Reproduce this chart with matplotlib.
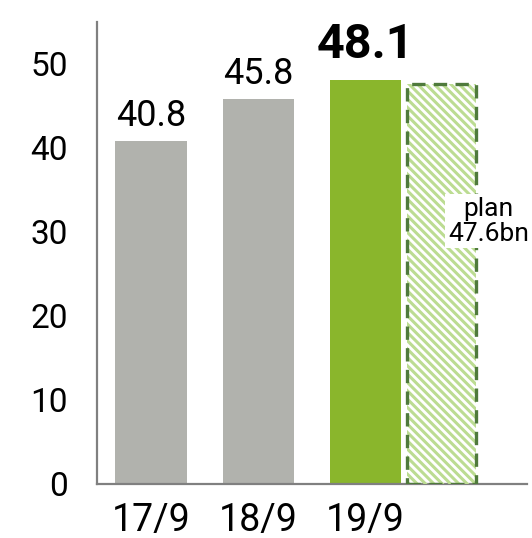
import matplotlib
matplotlib.use("Agg")
import matplotlib.pyplot as plt

periods = ["17/9", "18/9", "19/9"]
values = [40.8, 45.8, 48.1]
plan_value = 47.6
yticks = [0, 10, 20, 30, 40, 50]

plt.rcParams['font.family'] = ['Roboto', 'DejaVu Sans']
plt.rcParams['hatch.linewidth'] = 2.2

W, H = 532, 538
fig = plt.figure(figsize=(W / 100, H / 100), dpi=100)
ax = fig.add_axes([97 / W, (H - 484) / H, (527 - 97) / W, (484 - 22) / H])

x = list(range(len(periods)))
colors = ["#b1b2ad", "#b1b2ad", "#8ab62c"]
ax.bar(x, values, width=0.665, color=colors, zorder=2)

# plan bar: hatched fill plus dashed outline
px = x[-1] + 0.71
ax.bar(px, plan_value, width=0.645, fill=False, hatch="\\\\\\\\",
       edgecolor="#bcdc92", linewidth=0, zorder=3)
ax.bar(px, plan_value, width=0.645, fill=False, edgecolor="#4f7a3c",
       linewidth=2.4, linestyle=(0, (4, 2.5)), zorder=4)

for i, v in enumerate(values):
    if i == len(values) - 1:
        ax.text(i, v + 2.6, f"{v}", ha="center", va="baseline",
                fontsize=35, fontweight="bold")
    else:
        ax.text(i, v + 1.8, f"{v}", ha="center", va="baseline", fontsize=26)

ax.text(px + 0.44, 31.3, f"plan\n{plan_value}bn", ha="center", va="center",
        fontsize=19, linespacing=1.05, zorder=5,
        bbox=dict(facecolor="white", edgecolor="none", pad=2))

ax.set_xlim(-0.505, 3.51)
ax.set_ylim(0, 55)
ax.set_xticks(x)
ax.set_xticklabels(periods)
ax.set_yticks(yticks)
ax.tick_params(length=0)
ax.tick_params(axis="x", pad=13, labelsize=27)
ax.tick_params(axis="y", pad=21, labelsize=24)
for s in ["top", "right"]:
    ax.spines[s].set_visible(False)
for s in ["left", "bottom"]:
    ax.spines[s].set_color("#808080")
    ax.spines[s].set_linewidth(1.6)

fig.savefig("out.png", dpi=100)
